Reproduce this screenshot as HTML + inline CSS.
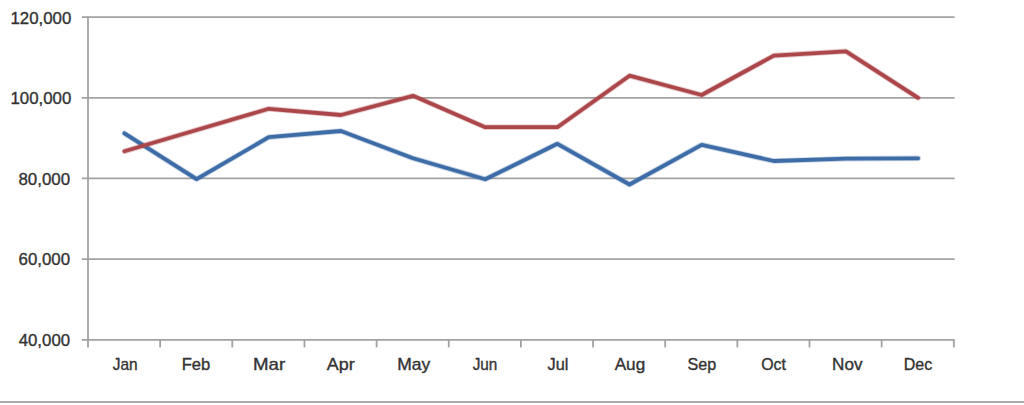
<!DOCTYPE html>
<html><head><meta charset="utf-8"><title>Chart</title>
<style>
html,body{margin:0;padding:0;background:#fff;width:1024px;height:405px;overflow:hidden}
svg{display:block}
#w{width:1024px;height:405px}
.t{font-family:"Liberation Sans",sans-serif;fill:#333333;stroke:#333333;stroke-width:0.35px}
</style></head><body>
<div id="w"><svg width="1024" height="405" viewBox="0 0 1024 405">
<line x1="81.8" y1="17.10" x2="954.60" y2="17.10" stroke="#a2a2a2" stroke-width="1.8"/>
<line x1="81.8" y1="97.78" x2="954.60" y2="97.78" stroke="#a2a2a2" stroke-width="1.8"/>
<line x1="81.8" y1="178.45" x2="954.60" y2="178.45" stroke="#a2a2a2" stroke-width="1.8"/>
<line x1="81.8" y1="259.12" x2="954.60" y2="259.12" stroke="#a2a2a2" stroke-width="1.8"/>
<line x1="81.8" y1="339.80" x2="954.60" y2="339.80" stroke="#a2a2a2" stroke-width="1.8"/>
<line x1="88.00" y1="16.30" x2="88.00" y2="347.4" stroke="#a2a2a2" stroke-width="1.8"/>
<line x1="160.15" y1="339.80" x2="160.15" y2="347.4" stroke="#a2a2a2" stroke-width="1.8"/>
<line x1="232.30" y1="339.80" x2="232.30" y2="347.4" stroke="#a2a2a2" stroke-width="1.8"/>
<line x1="304.45" y1="339.80" x2="304.45" y2="347.4" stroke="#a2a2a2" stroke-width="1.8"/>
<line x1="376.60" y1="339.80" x2="376.60" y2="347.4" stroke="#a2a2a2" stroke-width="1.8"/>
<line x1="448.75" y1="339.80" x2="448.75" y2="347.4" stroke="#a2a2a2" stroke-width="1.8"/>
<line x1="520.90" y1="339.80" x2="520.90" y2="347.4" stroke="#a2a2a2" stroke-width="1.8"/>
<line x1="593.05" y1="339.80" x2="593.05" y2="347.4" stroke="#a2a2a2" stroke-width="1.8"/>
<line x1="665.20" y1="339.80" x2="665.20" y2="347.4" stroke="#a2a2a2" stroke-width="1.8"/>
<line x1="737.35" y1="339.80" x2="737.35" y2="347.4" stroke="#a2a2a2" stroke-width="1.8"/>
<line x1="809.50" y1="339.80" x2="809.50" y2="347.4" stroke="#a2a2a2" stroke-width="1.8"/>
<line x1="881.65" y1="339.80" x2="881.65" y2="347.4" stroke="#a2a2a2" stroke-width="1.8"/>
<line x1="953.80" y1="339.80" x2="953.80" y2="347.4" stroke="#a2a2a2" stroke-width="1.8"/>
<text x="10.50" y="23.50" font-size="16.30" textLength="60.80" lengthAdjust="spacingAndGlyphs" class="t">120,000</text>
<text x="10.50" y="103.80" font-size="16.30" textLength="60.80" lengthAdjust="spacingAndGlyphs" class="t">100,000</text>
<text x="18.40" y="184.75" font-size="16.30" textLength="51.70" lengthAdjust="spacingAndGlyphs" class="t">80,000</text>
<text x="18.60" y="265.30" font-size="16.30" textLength="51.50" lengthAdjust="spacingAndGlyphs" class="t">60,000</text>
<text x="18.70" y="345.80" font-size="16.30" textLength="51.40" lengthAdjust="spacingAndGlyphs" class="t">40,000</text>
<text x="112.70" y="370.20" font-size="15.70" textLength="24.90" lengthAdjust="spacingAndGlyphs" class="t">Jan</text>
<text x="181.70" y="370.20" font-size="15.70" textLength="28.60" lengthAdjust="spacingAndGlyphs" class="t">Feb</text>
<text x="253.00" y="370.20" font-size="15.70" textLength="32.20" lengthAdjust="spacingAndGlyphs" class="t">Mar</text>
<text x="326.80" y="370.20" font-size="15.70" textLength="27.90" lengthAdjust="spacingAndGlyphs" class="t">Apr</text>
<text x="397.30" y="370.20" font-size="15.70" textLength="33.00" lengthAdjust="spacingAndGlyphs" class="t">May</text>
<text x="472.70" y="370.20" font-size="15.70" textLength="24.60" lengthAdjust="spacingAndGlyphs" class="t">Jun</text>
<text x="547.60" y="370.20" font-size="15.70" textLength="20.80" lengthAdjust="spacingAndGlyphs" class="t">Jul</text>
<text x="614.70" y="370.20" font-size="15.70" textLength="30.50" lengthAdjust="spacingAndGlyphs" class="t">Aug</text>
<text x="687.60" y="370.20" font-size="15.70" textLength="28.70" lengthAdjust="spacingAndGlyphs" class="t">Sep</text>
<text x="761.20" y="370.20" font-size="15.70" textLength="24.70" lengthAdjust="spacingAndGlyphs" class="t">Oct</text>
<text x="832.10" y="370.20" font-size="15.70" textLength="30.40" lengthAdjust="spacingAndGlyphs" class="t">Nov</text>
<text x="903.80" y="370.20" font-size="15.70" textLength="28.50" lengthAdjust="spacingAndGlyphs" class="t">Dec</text>
<path d="M124.47,133.30 L196.62,179.20 L268.77,137.20 L340.92,131.00 L413.07,158.30 L485.22,179.30 L557.37,143.80 L629.52,184.50 L701.67,144.80 L773.82,161.00 L845.97,158.70 L918.12,158.30" fill="none" stroke="#3d6ca7" stroke-opacity="0.3" stroke-width="5.6" stroke-linejoin="round" stroke-linecap="round"/>
<path d="M124.47,133.30 L196.62,179.20 L268.77,137.20 L340.92,131.00 L413.07,158.30 L485.22,179.30 L557.37,143.80 L629.52,184.50 L701.67,144.80 L773.82,161.00 L845.97,158.70 L918.12,158.30" fill="none" stroke="#3d6ca7" stroke-width="3.8" stroke-linejoin="round" stroke-linecap="round"/>
<path d="M124.47,151.20 L196.62,130.00 L268.77,108.80 L340.92,115.00 L413.07,95.80 L485.22,127.20 L557.37,127.20 L629.52,75.70 L701.67,95.00 L773.82,55.60 L845.97,51.30 L918.12,97.80" fill="none" stroke="#ab474a" stroke-opacity="0.3" stroke-width="5.6" stroke-linejoin="round" stroke-linecap="round"/>
<path d="M124.47,151.20 L196.62,130.00 L268.77,108.80 L340.92,115.00 L413.07,95.80 L485.22,127.20 L557.37,127.20 L629.52,75.70 L701.67,95.00 L773.82,55.60 L845.97,51.30 L918.12,97.80" fill="none" stroke="#ab474a" stroke-width="3.8" stroke-linejoin="round" stroke-linecap="round"/>
<rect x="0" y="401" width="1024" height="2" fill="#ababab"/>
</svg></div>
</body></html>
